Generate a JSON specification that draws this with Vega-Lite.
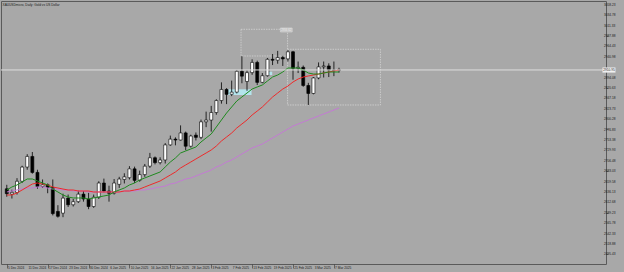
{
  "$schema": "https://vega.github.io/schema/vega-lite/v6.json",
  "width": 605,
  "height": 263,
  "autosize": {"type": "none"},
  "padding": {"left": 1, "top": 1, "right": 18, "bottom": 8},
  "background": "#a8a8a8",
  "config": {
    "view": {"stroke": "#5a5a5a", "strokeWidth": 1},
    "font": "Liberation Sans",
    "axis": {"labels": false, "grid": false, "domain": false, "title": null, "tickColor": "#333333", "tickWidth": 0.6},
    "axisX": {"tickSize": 4},
    "axisY": {"tickSize": 2}
  },
  "title": {"text": "XAUUSDmicro, Daily: Gold vs US Dollar", "anchor": "start", "offset": -5, "fontSize": 3.2, "fontWeight": "normal", "color": "#1a1a1a", "dx": 2},
  "datasets": {
    "bars": [
      {"i":0,"o":2643,"h":2652,"l":2625,"c":2632,"g":2640.3,"r":2629.0,"v":2635.8},
      {"i":1,"o":2631,"h":2641,"l":2621,"c":2635,"g":2647.1,"r":2629.0,"v":2638.0},
      {"i":2,"o":2635,"h":2667,"l":2630,"c":2660,"g":2651.6,"r":2633.5,"v":2640.3},
      {"i":3,"o":2660,"h":2695,"l":2656,"c":2692,"g":2658.4,"r":2640.3,"v":2642.5},
      {"i":4,"o":2692,"h":2721,"l":2686,"c":2716,"g":2665.1,"r":2647.1,"v":2644.8},
      {"i":5,"o":2716,"h":2726,"l":2677,"c":2680,"g":2665.1,"r":2653.8,"v":2644.8},
      {"i":6,"o":2680,"h":2686,"l":2643,"c":2648,"g":2660.6,"r":2656.1,"v":2647.1},
      {"i":7,"o":2648,"h":2664,"l":2645,"c":2652,"g":2656.1,"r":2653.8,"v":2647.1},
      {"i":8,"o":2652,"h":2655,"l":2633,"c":2646,"g":2651.6,"r":2651.6,"v":2644.8},
      {"i":9,"o":2646,"h":2664,"l":2583,"c":2587,"g":2642.5,"r":2647.1,"v":2642.5},
      {"i":10,"o":2592,"h":2606,"l":2578,"c":2581,"g":2635.8,"r":2644.8,"v":2642.5},
      {"i":11,"o":2588,"h":2632,"l":2579,"c":2622,"g":2629.0,"r":2642.5,"v":2640.3},
      {"i":12,"o":2622,"h":2630,"l":2602,"c":2607,"g":2624.5,"r":2640.3,"v":2640.3},
      {"i":13,"o":2607,"h":2620,"l":2603,"c":2614,"g":2622.3,"r":2640.3,"v":2638.0},
      {"i":14,"o":2614,"h":2639,"l":2611,"c":2631,"g":2622.3,"r":2638.0,"v":2638.0},
      {"i":15,"o":2631,"h":2638,"l":2614,"c":2620,"g":2622.3,"r":2638.0,"v":2638.0},
      {"i":16,"o":2620,"h":2634,"l":2597,"c":2603,"g":2620.0,"r":2638.0,"v":2635.8},
      {"i":17,"o":2603,"h":2630,"l":2600,"c":2624,"g":2622.3,"r":2635.8,"v":2635.8},
      {"i":18,"o":2624,"h":2660,"l":2620,"c":2656,"g":2624.5,"r":2635.8,"v":2635.8},
      {"i":19,"o":2656,"h":2666,"l":2635,"c":2638,"g":2626.8,"r":2635.8,"v":2635.8},
      {"i":20,"o":2638,"h":2650,"l":2614,"c":2633,"g":2629.0,"r":2635.8,"v":2635.8},
      {"i":21,"o":2633,"h":2665,"l":2630,"c":2656,"g":2635.8,"r":2635.8,"v":2635.8},
      {"i":22,"o":2653,"h":2670,"l":2645,"c":2665,"g":2640.3,"r":2635.8,"v":2635.8},
      {"i":23,"o":2664,"h":2678,"l":2655,"c":2670,"g":2644.8,"r":2638.0,"v":2638.0},
      {"i":24,"o":2668,"h":2694,"l":2664,"c":2688,"g":2651.6,"r":2638.0,"v":2638.0},
      {"i":25,"o":2688,"h":2693,"l":2656,"c":2662,"g":2656.1,"r":2640.3,"v":2638.0},
      {"i":26,"o":2662,"h":2684,"l":2659,"c":2675,"g":2662.9,"r":2642.5,"v":2640.3},
      {"i":27,"o":2675,"h":2699,"l":2670,"c":2694,"g":2667.4,"r":2647.1,"v":2640.3},
      {"i":28,"o":2694,"h":2724,"l":2690,"c":2713,"g":2671.9,"r":2651.6,"v":2642.5},
      {"i":29,"o":2713,"h":2716,"l":2698,"c":2702,"g":2676.4,"r":2656.1,"v":2644.8},
      {"i":30,"o":2702,"h":2714,"l":2698,"c":2708,"g":2680.9,"r":2660.6,"v":2647.1},
      {"i":31,"o":2708,"h":2746,"l":2700,"c":2742,"g":2692.2,"r":2667.4,"v":2649.3},
      {"i":32,"o":2742,"h":2763,"l":2740,"c":2755,"g":2703.4,"r":2674.1,"v":2653.8},
      {"i":33,"o":2755,"h":2759,"l":2741,"c":2753,"g":2712.5,"r":2680.9,"v":2656.1},
      {"i":34,"o":2753,"h":2786,"l":2752,"c":2769,"g":2723.7,"r":2689.9,"v":2660.6},
      {"i":35,"o":2769,"h":2772,"l":2730,"c":2739,"g":2728.3,"r":2696.7,"v":2665.1},
      {"i":36,"o":2739,"h":2765,"l":2736,"c":2762,"g":2732.8,"r":2703.4,"v":2667.4},
      {"i":37,"o":2764,"h":2770,"l":2752,"c":2759,"g":2737.3,"r":2710.2,"v":2671.9},
      {"i":38,"o":2759,"h":2799,"l":2755,"c":2794,"g":2748.5,"r":2717.0,"v":2676.4},
      {"i":39,"o":2794,"h":2817,"l":2782,"c":2798,"g":2757.6,"r":2723.7,"v":2680.9},
      {"i":40,"o":2798,"h":2830,"l":2772,"c":2815,"g":2766.6,"r":2730.5,"v":2685.4},
      {"i":41,"o":2815,"h":2845,"l":2810,"c":2842,"g":2782.4,"r":2739.5,"v":2692.2},
      {"i":42,"o":2842,"h":2883,"l":2835,"c":2867,"g":2798.2,"r":2750.8,"v":2696.7},
      {"i":43,"o":2867,"h":2870,"l":2834,"c":2856,"g":2813.9,"r":2759.8,"v":2703.4},
      {"i":44,"o":2856,"h":2887,"l":2852,"c":2861,"g":2827.5,"r":2768.8,"v":2708.0},
      {"i":45,"o":2861,"h":2911,"l":2858,"c":2908,"g":2841.0,"r":2780.1,"v":2714.7},
      {"i":46,"o":2908,"h":2942,"l":2881,"c":2897,"g":2850.0,"r":2789.1,"v":2721.5},
      {"i":47,"o":2885,"h":2910,"l":2864,"c":2905,"g":2859.0,"r":2798.2,"v":2728.3},
      {"i":48,"o":2905,"h":2935,"l":2900,"c":2928,"g":2868.0,"r":2809.4,"v":2735.0},
      {"i":49,"o":2928,"h":2932,"l":2877,"c":2883,"g":2872.6,"r":2818.4,"v":2739.5},
      {"i":50,"o":2883,"h":2904,"l":2881,"c":2898,"g":2877.1,"r":2827.5,"v":2744.0},
      {"i":51,"o":2898,"h":2938,"l":2896,"c":2935,"g":2886.1,"r":2838.7,"v":2750.8},
      {"i":52,"o":2935,"h":2947,"l":2922,"c":2933,"g":2895.1,"r":2850.0,"v":2757.6},
      {"i":53,"o":2933,"h":2954,"l":2925,"c":2939,"g":2899.6,"r":2859.0,"v":2764.3},
      {"i":54,"o":2939,"h":2943,"l":2920,"c":2936,"g":2906.4,"r":2868.0,"v":2771.1},
      {"i":55,"o":2936,"h":2956,"l":2930,"c":2952,"g":2915.4,"r":2874.8,"v":2777.8},
      {"i":56,"o":2952,"h":2954,"l":2889,"c":2915,"g":2915.4,"r":2883.8,"v":2784.6},
      {"i":57,"o":2915,"h":2930,"l":2904,"c":2917,"g":2915.4,"r":2890.6,"v":2789.1},
      {"i":58,"o":2917,"h":2921,"l":2873,"c":2876,"g":2910.9,"r":2895.1,"v":2793.7},
      {"i":59,"o":2876,"h":2882,"l":2832,"c":2858,"g":2904.1,"r":2897.4,"v":2798.2},
      {"i":60,"o":2858,"h":2895,"l":2856,"c":2893,"g":2901.8,"r":2899.6,"v":2802.7},
      {"i":61,"o":2893,"h":2928,"l":2890,"c":2918,"g":2901.8,"r":2901.8,"v":2807.2},
      {"i":62,"o":2918,"h":2930,"l":2894,"c":2920,"g":2904.1,"r":2904.1,"v":2811.7},
      {"i":63,"o":2920,"h":2926,"l":2895,"c":2911,"g":2906.4,"r":2906.4,"v":2816.2},
      {"i":64,"o":2911,"h":2930,"l":2897,"c":2910,"g":2906.4,"r":2908.6,"v":2820.7},
      {"i":65,"o":2910,"h":2916,"l":2905,"c":2911.5,"g":2906.4,"r":2910.9,"v":2825.2}
    ],
    "objs": [
      {"kind":"cyan","x1":43.27,"x2":47.89,"y1":2867.4,"y2":2854.5},
      {"kind":"cyan","x1":51.28,"x2":51.93,"y1":2907.1,"y2":2899.6},
      {"kind":"dash","x1":45.83,"x2":54.94,"y1":3002.7,"y2":2942.5},
      {"kind":"dash","x1":54.94,"x2":73.1,"y1":2957.6,"y2":2832.0},
      {"kind":"box","x1":53.53,"x2":55.84,"y1":3005.6,"y2":2996.6}
    ],
    "xlabels": [
      {"i":0,"t":"5 Dec 2024"},{"i":4,"t":"11 Dec 2024"},{"i":8,"t":"17 Dec 2024"},{"i":12,"t":"23 Dec 2024"},
      {"i":16,"t":"30 Dec 2024"},{"i":20,"t":"6 Jan 2025"},{"i":24,"t":"10 Jan 2025"},{"i":28,"t":"16 Jan 2025"},
      {"i":32,"t":"22 Jan 2025"},{"i":36,"t":"28 Jan 2025"},{"i":40,"t":"3 Feb 2025"},{"i":44,"t":"7 Feb 2025"},
      {"i":48,"t":"13 Feb 2025"},{"i":52,"t":"19 Feb 2025"},{"i":56,"t":"25 Feb 2025"},{"i":60,"t":"3 Mar 2025"},
      {"i":64,"t":"7 Mar 2025"}
    ],
    "ylabels": [
      {"p":3058.23},{"p":3034.78},{"p":3011.33},{"p":2987.88},{"p":2964.43},{"p":2940.98},{"p":2894.08},{"p":2870.63},
      {"p":2847.18},{"p":2823.73},{"p":2800.28},{"p":2776.83},{"p":2753.38},{"p":2729.93},{"p":2706.48},{"p":2683.03},
      {"p":2659.58},{"p":2636.13},{"p":2612.68},{"p":2589.23},{"p":2565.78},{"p":2542.33},{"p":2518.88},{"p":2495.43}
    ]
  },
  "layer": [
    {
      "data": {"name": "objs"},
      "transform": [{"filter": "datum.kind == 'cyan'"}],
      "mark": {"type": "rect", "fill": "#b4e4ec"},
      "encoding": {
        "x": {"field": "x1", "type": "quantitative", "scale": {"domain": [-0.154, 116.26], "nice": false, "zero": false}, "axis": {
          "values": [0,4,8,12,16,20,24,28,32,36,40,44,48,52,56,60,64]
        }},
        "x2": {"field": "x2"},
        "y": {"field": "y1", "type": "quantitative", "scale": {"domain": [2473.4, 3066.5], "nice": false, "zero": false}, "axis": {
          "orient": "right",
          "values": [3058.23,3034.78,3011.33,2987.88,2964.43,2940.98,2894.08,2870.63,2847.18,2823.73,2800.28,2776.83,2753.38,2729.93,2706.48,2683.03,2659.58,2636.13,2612.68,2589.23,2565.78,2542.33,2518.88,2495.43]
        }},
        "y2": {"field": "y2"}
      }
    },
    {
      "data": {"name": "objs"},
      "transform": [{"filter": "datum.kind == 'dash'"}],
      "mark": {"type": "rect", "fill": null, "stroke": "#dadada", "strokeWidth": 0.7, "strokeDash": [1.5, 1]},
      "encoding": {
        "x": {"field": "x1", "type": "quantitative"},
        "x2": {"field": "x2"},
        "y": {"field": "y1", "type": "quantitative"},
        "y2": {"field": "y2"}
      }
    },
    {
      "data": {"name": "objs"},
      "transform": [{"filter": "datum.kind == 'box'"}],
      "mark": {"type": "rect", "fill": "#c2c2c2", "stroke": "#dadada", "strokeWidth": 0.6},
      "encoding": {
        "x": {"field": "x1", "type": "quantitative"},
        "x2": {"field": "x2"},
        "y": {"field": "y1", "type": "quantitative"},
        "y2": {"field": "y2"}
      }
    },
    {
      "data": {"name": "bars"},
      "mark": {"type": "rule", "color": "#000000", "strokeWidth": 0.8},
      "encoding": {
        "x": {"field": "i", "type": "quantitative"},
        "y": {"field": "l", "type": "quantitative"},
        "y2": {"field": "h"}
      }
    },
    {
      "data": {"name": "bars"},
      "mark": {"type": "bar", "size": 3, "stroke": "#000000", "strokeWidth": 0.6},
      "encoding": {
        "x": {"field": "i", "type": "quantitative"},
        "y": {"field": "o", "type": "quantitative"},
        "y2": {"field": "c"},
        "fill": {"condition": {"test": "datum.c >= datum.o", "value": "#ffffff"}, "value": "#000000"}
      }
    },
    {
      "data": {"name": "bars"},
      "mark": {"type": "line", "color": "#c47ad4", "strokeWidth": 1},
      "encoding": {
        "x": {"field": "i", "type": "quantitative"},
        "y": {"field": "v", "type": "quantitative"}
      }
    },
    {
      "data": {"name": "bars"},
      "mark": {"type": "line", "color": "#ee2a2a", "strokeWidth": 1},
      "encoding": {
        "x": {"field": "i", "type": "quantitative"},
        "y": {"field": "r", "type": "quantitative"}
      }
    },
    {
      "data": {"name": "bars"},
      "mark": {"type": "line", "color": "#1f8a1f", "strokeWidth": 1},
      "encoding": {
        "x": {"field": "i", "type": "quantitative"},
        "y": {"field": "g", "type": "quantitative"}
      }
    },
    {
      "data": {"values": [{"p": 2911}]},
      "mark": {"type": "rule", "color": "#dedede", "strokeWidth": 1},
      "encoding": {
        "y": {"field": "p", "type": "quantitative"}
      }
    },
    {
      "data": {"name": "ylabels"},
      "mark": {"type": "text", "fontSize": 3.2, "color": "#1a1a1a", "align": "left", "baseline": "middle", "dx": 3},
      "encoding": {
        "x": {"datum": 116.26, "type": "quantitative"},
        "y": {"field": "p", "type": "quantitative"},
        "text": {"field": "p", "type": "quantitative", "format": ".2f"}
      }
    },
    {
      "data": {"name": "xlabels"},
      "mark": {"type": "text", "fontSize": 3.2, "color": "#1a1a1a", "align": "left", "baseline": "middle", "dx": 1.2, "dy": 3.5},
      "encoding": {
        "x": {"field": "i", "type": "quantitative"},
        "y": {"datum": 2473.4, "type": "quantitative"},
        "text": {"field": "t"}
      }
    },
    {
      "data": {"values": [{"a": 116.59, "b": 119.05, "p1": 2916.2, "p2": 2905.4}]},
      "mark": {"type": "rect", "fill": "#f2f2f2", "stroke": "#dedede", "strokeWidth": 0.5},
      "encoding": {
        "x": {"field": "a", "type": "quantitative"},
        "x2": {"field": "b"},
        "y": {"field": "p1", "type": "quantitative"},
        "y2": {"field": "p2"}
      }
    },
    {
      "data": {"values": [{"a": 117.82, "p": 2911, "t": "2910.95"}]},
      "mark": {"type": "text", "fontSize": 3.2, "color": "#1a1a1a", "align": "center", "baseline": "middle"},
      "encoding": {
        "x": {"field": "a", "type": "quantitative"},
        "y": {"field": "p", "type": "quantitative"},
        "text": {"field": "t"}
      }
    },
    {
      "data": {"values": [{"a": 54.68, "p": 3001.1, "t": "2956.62"}]},
      "mark": {"type": "text", "fontSize": 2.8, "color": "#eeeeee", "align": "center", "baseline": "middle"},
      "encoding": {
        "x": {"field": "a", "type": "quantitative"},
        "y": {"field": "p", "type": "quantitative"},
        "text": {"field": "t"}
      }
    }
  ]
}
